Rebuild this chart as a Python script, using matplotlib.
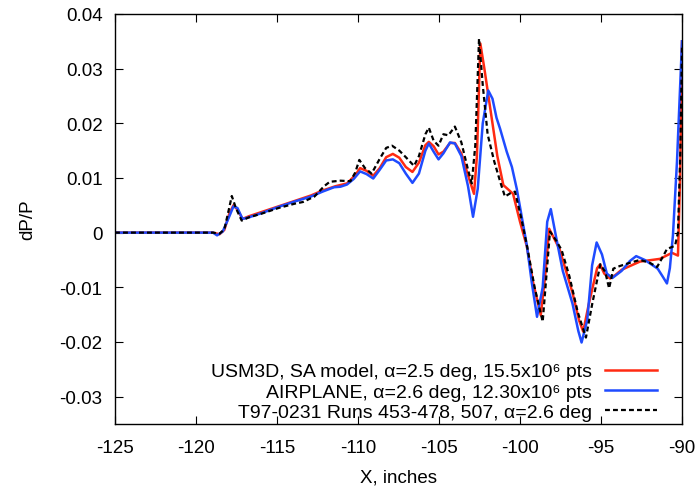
import matplotlib
matplotlib.use("Agg")
import matplotlib.pyplot as plt

plt.rcParams["font.family"] = ["Liberation Sans", "DejaVu Sans"]

# USM3D, SA model
x_usm = [-125, -118.95, -118.55, -118.25, -117.94, -117.69, -117.44, -117.13, -116.73, -115.92,
         -114.91, -113.9, -112.9, -112.19, -111.38, -110.68, -110.17, -109.87, -109.47, -109.06,
         -108.66, -108.26, -107.85, -107.45, -107.05, -106.64, -106.24, -105.84, -105.63, -105.33,
         -105.03, -104.73, -104.32, -104.02, -103.62, -103.21, -102.84, -102.66, -102.45, -102.2,
         -101.8, -101.4, -101.03, -100.43, -100.0, -99.58, -99.2, -98.72, -98.45, -98.2, -97.56,
         -96.76, -96.36, -96.1, -95.75, -95.24, -95.06, -94.8, -94.44, -94.13, -93.73, -92.6,
         -91.36, -90.62, -90.25, -90.12, -90.0]
y_usm = [0, 0, -0.0003, 0.0005, 0.0035, 0.005, 0.0042, 0.0025, 0.003, 0.0038,
         0.0048, 0.0058, 0.0068, 0.0077, 0.0085, 0.009, 0.0105, 0.0118, 0.0113, 0.0104,
         0.0118, 0.0138, 0.0144, 0.0137, 0.0120, 0.0111, 0.0128, 0.0160, 0.0166, 0.0158,
         0.0143, 0.0148, 0.0164, 0.0164, 0.0145, 0.0105, 0.0071, 0.014, 0.0346, 0.030,
         0.022, 0.014, 0.0087, 0.0071, 0.002, -0.0025, -0.009, -0.0151, -0.008, 0.0007, -0.003,
         -0.011, -0.016, -0.0181, -0.013, -0.0065, -0.0058, -0.0075, -0.0084, -0.0078, -0.0068, -0.0053,
         -0.0048, -0.0037, -0.0042, 0.010, 0.035]

# AIRPLANE
x_air = [-125, -118.95, -118.7, -118.35, -117.94, -117.69, -117.44, -117.13, -116.73, -115.92,
         -114.91, -113.9, -112.9, -112.19, -111.48, -111.08, -110.68, -110.27, -109.87, -109.47,
         -109.06, -108.66, -108.26, -107.85, -107.45, -107.05, -106.64, -106.24, -105.84, -105.63,
         -105.33, -105.03, -104.73, -104.32, -104.02, -103.62, -103.21, -102.9, -102.61, -102.3,
         -101.96, -101.7, -101.45, -101.23, -100.82, -100.5, -100.2, -99.58, -99.28, -98.95,
         -98.6, -98.32, -98.1, -97.76, -97.36, -96.76, -96.4, -96.2, -95.85, -95.55, -95.27,
         -94.94, -94.64, -94.3, -93.73, -93.22, -92.83, -92.3, -91.5, -91.2, -90.93, -90.75,
         -90.56, -90.31, -90.0]
y_air = [0, 0, -0.0005, 0.0002, 0.003, 0.0048, 0.0045, 0.0025, 0.0028, 0.0036,
         0.0047, 0.0057, 0.0066, 0.0075, 0.0083, 0.0084, 0.0088, 0.0098, 0.0112, 0.0107,
         0.0099, 0.0115, 0.0132, 0.0134, 0.0127, 0.0108, 0.0091, 0.0108, 0.0150, 0.0163,
         0.0148, 0.0134, 0.0145, 0.0165, 0.0163, 0.0140, 0.0085, 0.0029, 0.008, 0.020,
         0.026, 0.0245, 0.021, 0.019, 0.0148, 0.012, 0.008, -0.0023, -0.009, -0.0154,
         -0.010, 0.002, 0.0043, -0.001, -0.007, -0.013, -0.018, -0.0201, -0.016, -0.006, -0.0018,
         -0.004, -0.0075, -0.0083, -0.007, -0.0052, -0.0043, -0.0050, -0.0066, -0.0080, -0.0093, -0.0065,
         -0.0005, 0.013, 0.035]

# T97-0231 wind tunnel
x_exp = [-125, -118.95, -118.55, -118.25, -117.99, -117.79, -117.54, -117.18, -116.73, -115.92,
         -114.91, -113.9, -113.4, -112.69, -112.09, -111.74, -111.08, -110.47, -110.17, -109.92,
         -109.57, -109.16, -108.66, -108.26, -107.9, -107.45, -107.05, -106.54, -106.24, -105.84,
         -105.63, -105.33, -105.03, -104.73, -104.42, -104.02, -103.62, -103.21, -102.98, -102.76,
         -102.53, -102.3, -102.0, -101.59, -101.19, -100.93, -100.6, -100.31, -99.95, -99.57,
         -99.1, -98.6, -98.15, -97.76, -97.43, -96.95, -96.44, -95.93, -95.54, -95.04, -94.74,
         -94.5, -94.24, -93.93, -93.2, -92.6, -92.0, -91.54, -91.2, -90.93, -90.43, -90.25,
         -90.1, -90.0]
y_exp = [0, 0, -0.0002, 0.0006, 0.004, 0.0067, 0.0045, 0.0022, 0.0028, 0.0035,
         0.0045, 0.0053, 0.0056, 0.0066, 0.0085, 0.0093, 0.0095, 0.0094, 0.011, 0.0133,
         0.0118, 0.0108, 0.0135, 0.0155, 0.0159, 0.0150, 0.0138, 0.0122, 0.0140, 0.0180,
         0.0192, 0.0168, 0.0159, 0.018, 0.0178, 0.0194, 0.0165, 0.0115, 0.009, 0.016,
         0.0355, 0.027, 0.018, 0.013, 0.009, 0.0066, 0.0072, 0.0075, 0.003, -0.0024,
         -0.010, -0.0163, 0.0002, -0.0015, -0.0032, -0.008, -0.0145, -0.0192, -0.013, -0.0058,
         -0.0072, -0.0102, -0.0066, -0.0062, -0.0055, -0.005, -0.0055, -0.0063, -0.0045, -0.003,
         -0.0024, 0.0, 0.015, 0.034]

labels = ["USM3D, SA model, α=2.5 deg, 15.5x10⁶ pts",
          "AIRPLANE, α=2.6 deg, 12.30x10⁶ pts",
          "T97-0231 Runs 453-478, 507, α=2.6 deg"]
x_ticks = [-125, -120, -115, -110, -105, -100, -95, -90]
y_ticks = [-0.03, -0.02, -0.01, 0, 0.01, 0.02, 0.03, 0.04]
y_ticklabels = ["-0.03", "-0.02", "-0.01", "0", "0.01", "0.02", "0.03", "0.04"]

fig = plt.figure(figsize=(6.97, 4.89), dpi=100)
ax = fig.add_axes([0.165, 0.131, 0.8135, 0.8384])

ax.plot(x_usm, y_usm, color="#ff2a12", lw=1.8, label=labels[0])
ax.plot(x_air, y_air, color="#1f4bff", lw=1.8, label=labels[1])
ax.plot(x_exp, y_exp, color="black", lw=1.6, ls=(0, (2.2, 1.4)), label=labels[2])

ax.set_xlim(-125, -90)
ax.set_ylim(-0.035, 0.04)
ax.set_xticks(x_ticks)
ax.set_xticklabels([str(v) for v in x_ticks])
ax.set_yticks(y_ticks)
ax.set_yticklabels(y_ticklabels)
ax.tick_params(direction="in", length=6, width=0.8, top=True, right=True,
               labelsize=13.5)
ax.tick_params(axis="y", pad=9)
ax.tick_params(axis="x", pad=11)
for s in ax.spines.values():
    s.set_linewidth(1.0)

ax.set_xlabel("X, inches", fontsize=13.5, labelpad=9)
ax.set_ylabel("dP/P", fontsize=13.5, labelpad=17)

ax.legend(loc="lower right", bbox_to_anchor=(0.956, 0.008), frameon=False,
          markerfirst=False, fontsize=14, handlelength=2.7, handletextpad=0.65,
          labelspacing=0.13, borderpad=0, borderaxespad=0)

fig.savefig("out.png", dpi=100)
